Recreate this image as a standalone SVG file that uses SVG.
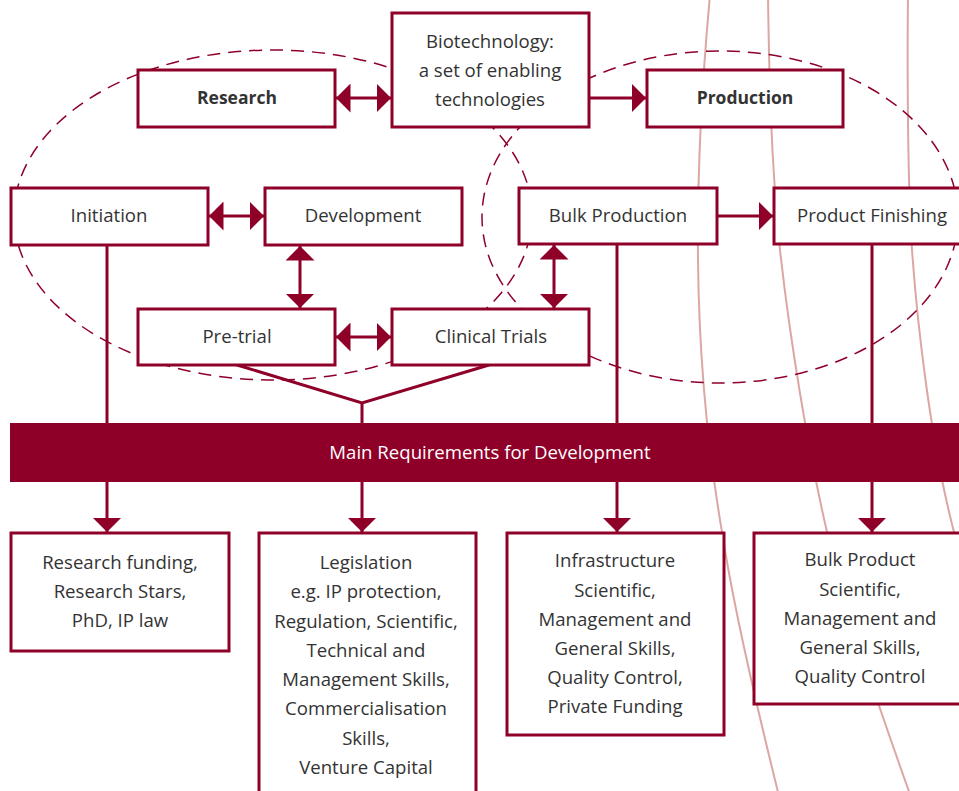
<svg xmlns="http://www.w3.org/2000/svg" width="959" height="791" viewBox="0 0 959 791">
  <style>
    .box { fill: #ffffff; stroke: #8f0029; stroke-width: 3; }
    .bar { fill: #8f0029; }
    .lbl { font-family: "Open Sans", "Noto Sans", sans-serif; font-size: 18.6px; fill: #333333; text-anchor: middle; }
    .bold { font-weight: bold; font-size: 17.5px; }
    .white { fill: #ffffff; }
    .wire { fill: none; stroke: #8f0029; stroke-width: 3; }
    .ring { fill: none; stroke: #8f0029; stroke-width: 1.5; stroke-dasharray: 13 8; }
    .arc { fill: none; stroke: #dca7a2; stroke-width: 2; }
  </style>
  <defs>
    <marker id="head" markerUnits="userSpaceOnUse" markerWidth="15" markerHeight="29" viewBox="0 0 15 29" refX="14.5" refY="14.5" orient="auto-start-reverse">
      <path d="M0,0 L14.5,14.5 L0,29 z" fill="#8f0029"/>
    </marker>
  </defs>

  <!-- background contour lines -->
  <g id="contours">
    <path class="arc" d="M710,-5 C704,60 697,160 698,260 C699,360 708,450 722,532 C734,610 755,700 780,800"/>
    <path class="arc" d="M768,-5 C769,60 770,150 780,250 C790,340 808,450 827,532 C845,610 880,710 912,800"/>
    <path class="arc" d="M908,-5 C907,80 908,190 912,250 C917,320 930,440 954,532 L966,575"/>
  </g>

  <!-- dashed groupings: research side and production side -->
  <g id="groupings">
    <ellipse class="ring" cx="273" cy="215" rx="259" ry="165"/>
    <ellipse class="ring" cx="720" cy="217" rx="238" ry="166"/>
  </g>

  <!-- connectors -->
  <g id="connectors">
    <line class="wire" x1="336" y1="98" x2="391" y2="98" marker-start="url(#head)" marker-end="url(#head)"/>
    <line class="wire" x1="590" y1="98" x2="646" y2="98" marker-end="url(#head)"/>
    <line class="wire" x1="209" y1="216" x2="264" y2="216" marker-start="url(#head)" marker-end="url(#head)"/>
    <line class="wire" x1="300" y1="246" x2="300" y2="308" marker-start="url(#head)" marker-end="url(#head)"/>
    <line class="wire" x1="336" y1="337" x2="391" y2="337" marker-start="url(#head)" marker-end="url(#head)"/>
    <line class="wire" x1="554" y1="245" x2="554" y2="308" marker-start="url(#head)" marker-end="url(#head)"/>
    <line class="wire" x1="718" y1="216" x2="773" y2="216" marker-end="url(#head)"/>

    <line class="wire" x1="107" y1="245" x2="107" y2="424"/>
    <polyline class="wire" points="237,365 362,403 489,365"/>
    <line class="wire" x1="362" y1="403" x2="362" y2="424"/>
    <line class="wire" x1="617" y1="244" x2="617" y2="424"/>
    <line class="wire" x1="872" y1="244" x2="872" y2="424"/>

    <line class="wire" x1="107" y1="482" x2="107" y2="532" marker-end="url(#head)"/>
    <line class="wire" x1="362" y1="482" x2="362" y2="532" marker-end="url(#head)"/>
    <line class="wire" x1="617" y1="482" x2="617" y2="532" marker-end="url(#head)"/>
    <line class="wire" x1="872" y1="482" x2="872" y2="532" marker-end="url(#head)"/>
  </g>

  <!-- top row -->
  <g id="research">
    <rect class="box" x="138" y="70" width="197" height="57"/>
    <text class="lbl bold" x="237" y="104">Research</text>
  </g>
  <g id="biotechnology">
    <rect class="box" x="392" y="13" width="197" height="114"/>
    <text class="lbl" x="490" y="48">Biotechnology:</text>
    <text class="lbl" x="490" y="77">a set of enabling</text>
    <text class="lbl" x="490" y="106">technologies</text>
  </g>
  <g id="production">
    <rect class="box" x="647" y="70" width="196" height="57"/>
    <text class="lbl bold" x="745" y="104">Production</text>
  </g>

  <!-- research stages -->
  <g id="initiation">
    <rect class="box" x="11" y="188" width="197" height="57"/>
    <text class="lbl" x="109" y="222">Initiation</text>
  </g>
  <g id="development">
    <rect class="box" x="265" y="188" width="197" height="57"/>
    <text class="lbl" x="363" y="222">Development</text>
  </g>
  <g id="pre-trial">
    <rect class="box" x="138" y="309" width="197" height="56"/>
    <text class="lbl" x="237" y="343">Pre-trial</text>
  </g>
  <g id="clinical-trials">
    <rect class="box" x="392" y="309" width="197" height="56"/>
    <text class="lbl" x="491" y="343">Clinical Trials</text>
  </g>

  <!-- production stages -->
  <g id="bulk-production">
    <rect class="box" x="519" y="188" width="198" height="56"/>
    <text class="lbl" x="618" y="222">Bulk Production</text>
  </g>
  <g id="product-finishing">
    <rect class="box" x="774" y="188" width="197" height="56"/>
    <text class="lbl" x="872" y="222">Product Finishing</text>
  </g>

  <!-- requirements band -->
  <g id="requirements">
    <rect class="bar" x="10" y="423" width="955" height="59"/>
    <text class="lbl white" x="490" y="459">Main Requirements for Development</text>
  </g>

  <!-- requirement boxes -->
  <g id="req-research">
    <rect class="box" x="11" y="533" width="218" height="118"/>
    <text class="lbl" x="120" y="569">Research funding,</text>
    <text class="lbl" x="120" y="598">Research Stars,</text>
    <text class="lbl" x="120" y="627">PhD, IP law</text>
  </g>
  <g id="req-legislation">
    <rect class="box" x="259" y="533" width="217" height="270"/>
    <text class="lbl" x="366" y="569">Legislation</text>
    <text class="lbl" x="366" y="598">e.g. IP protection,</text>
    <text class="lbl" x="366" y="628">Regulation, Scientific,</text>
    <text class="lbl" x="366" y="657">Technical and</text>
    <text class="lbl" x="366" y="686">Management Skills,</text>
    <text class="lbl" x="366" y="715">Commercialisation</text>
    <text class="lbl" x="366" y="745">Skills,</text>
    <text class="lbl" x="366" y="774">Venture Capital</text>
  </g>
  <g id="req-infrastructure">
    <rect class="box" x="507" y="533" width="217" height="202"/>
    <text class="lbl" x="615" y="567">Infrastructure</text>
    <text class="lbl" x="615" y="597">Scientific,</text>
    <text class="lbl" x="615" y="626">Management and</text>
    <text class="lbl" x="615" y="655">General Skills,</text>
    <text class="lbl" x="615" y="684">Quality Control,</text>
    <text class="lbl" x="615" y="713">Private Funding</text>
  </g>
  <g id="req-bulk-product">
    <rect class="box" x="754" y="533" width="217" height="171"/>
    <text class="lbl" x="860" y="566">Bulk Product</text>
    <text class="lbl" x="860" y="596">Scientific,</text>
    <text class="lbl" x="860" y="625">Management and</text>
    <text class="lbl" x="860" y="654">General Skills,</text>
    <text class="lbl" x="860" y="683">Quality Control</text>
  </g>
</svg>
